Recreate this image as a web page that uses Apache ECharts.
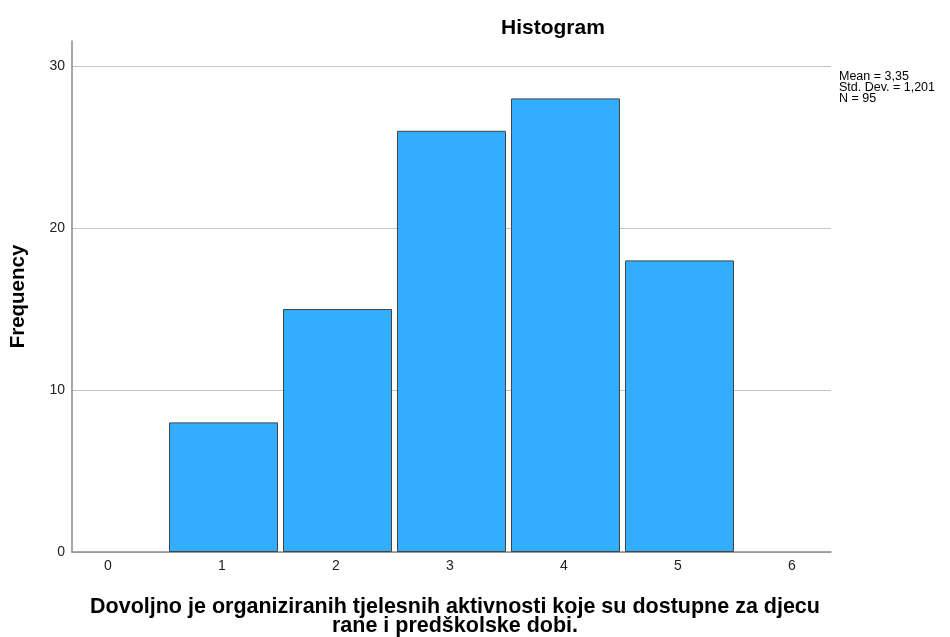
<!DOCTYPE html>
<html><head><meta charset="utf-8">
<script src="https://cdn.jsdelivr.net/npm/echarts@6/dist/echarts.min.js"></script>
<style>html,body{margin:0;padding:0;background:#fff}#c{width:950px;height:637px}</style>
</head><body><div id="c"></div>
<script>
const binCenters = [1, 2, 3, 4, 5];
const frequencies = [8, 15, 26, 28, 18];
const xTickMin = 0, xTickMax = 6;
const yTicks = [0, 10, 20, 30];
const titleText = 'Histogram';
const xName = 'Dovoljno je organiziranih tjelesnih aktivnosti koje su dostupne za djecu\nrane i predškolske dobi.';
const yName = 'Frequency';
const statsLines = ['Mean = 3,35', 'Std. Dev. = 1,201', 'N = 95'];

const FF = '"Liberation Sans", Arial, sans-serif';
const chart = echarts.init(document.getElementById('c'), null, {renderer: 'canvas'});
chart.setOption({
  animation: false,
  textStyle: {fontFamily: FF},
  title: [
    {text: titleText, left: 496, top: 13, textStyle: {fontFamily: FF, fontSize: 21, fontWeight: 'bold', color: '#000'}},
    {text: statsLines.join('\n'), left: 839, top: 71, padding: 0, textStyle: {fontFamily: FF, fontSize: 12.5, fontWeight: 'normal', color: '#000', lineHeight: 11}},
    {text: xName, left: 455, top: 598, padding: 0, textAlign: 'center',
     textStyle: {fontFamily: FF, fontSize: 21.5, fontWeight: 'bold', color: '#000', lineHeight: 19, align: 'center'}}
  ],
  grid: [
    {left: 72, right: 119, top: 66, bottom: 85, outerBoundsMode: 'none'},
    {left: 72, right: 119, top: 41, bottom: 85, outerBoundsMode: 'none'},
    {left: 108, right: 158, top: 66, bottom: 85, outerBoundsMode: 'none'}
  ],
  xAxis: [
    {type: 'value', gridIndex: 0, min: -0.329, max: 6.329,
     axisLine: {show: true, lineStyle: {color: '#8a8a8a', width: 1.5}},
     axisTick: {show: false}, axisLabel: {show: false}, splitLine: {show: false}},
    {type: 'value', gridIndex: 1, min: 0, max: 1, show: false},
    {type: 'value', gridIndex: 2, min: xTickMin, max: xTickMax, interval: 1,
     axisLine: {show: false}, axisTick: {show: false}, splitLine: {show: false},
     axisLabel: {show: true, margin: 7, fontSize: 14, color: '#222', fontFamily: FF}}
  ],
  yAxis: [
    {type: 'value', gridIndex: 0, min: yTicks[0], max: yTicks[yTicks.length-1], interval: 10,
     axisLine: {show: false}, axisTick: {show: false},
     axisLabel: {show: true, margin: 7, fontSize: 14, color: '#222', fontFamily: FF},
     splitLine: {show: true, lineStyle: {color: '#c4c4c4', width: 1}}},
    {type: 'value', gridIndex: 1, min: 0, max: 31.54,
     axisLine: {show: true, lineStyle: {color: '#8a8a8a', width: 1.5}},
     axisTick: {show: false}, axisLabel: {show: false}, splitLine: {show: false},
     name: yName, nameLocation: 'middle', nameGap: 43, nameRotate: 90,
     nameTextStyle: {fontFamily: FF, fontSize: 20.5, fontWeight: 'bold', color: '#000'}},
    {type: 'value', gridIndex: 2, min: 0, max: 30, show: false}
  ],
  series: [{
    type: 'bar', xAxisIndex: 0, yAxisIndex: 0,
    data: binCenters.map((c, i) => [c, frequencies[i]]),
    barWidth: 109,
    itemStyle: {color: '#33adff', borderColor: '#444', borderWidth: 1}
  }]
});
</script></body></html>
